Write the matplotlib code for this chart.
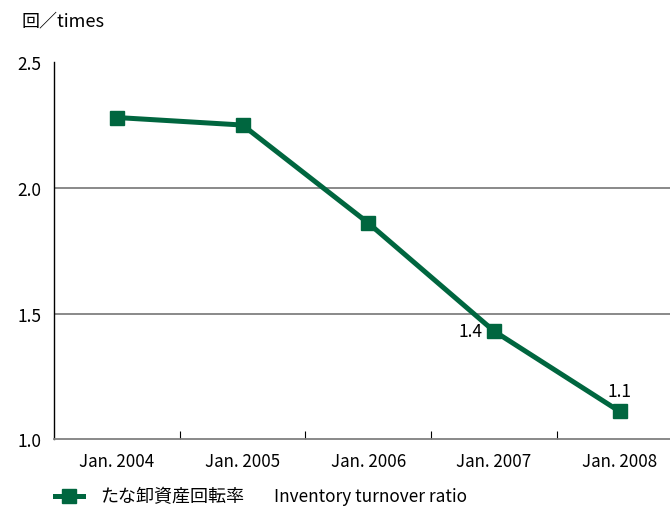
import matplotlib
matplotlib.use("Agg")
import matplotlib.pyplot as plt
from matplotlib.lines import Line2D

plt.rcParams['font.family'] = ['Noto Sans CJK JP', 'DejaVu Sans']

categories = ["Jan. 2004", "Jan. 2005", "Jan. 2006", "Jan. 2007", "Jan. 2008"]
values = [2.28, 2.25, 1.86, 1.43, 1.11]
yticks = [1.0, 1.5, 2.0, 2.5]
ytick_labels = ["1.0", "1.5", "2.0", "2.5"]
annotations = {3: "1.4", 4: "1.1"}

green = "#00663f"
gray = "#808080"

fig = plt.figure(figsize=(6.7, 5.1), dpi=100)
ax = fig.add_axes([0.0806, 0.137, 0.9194, 0.739])

x = list(range(len(categories)))
ax.plot(x, values, color=green, lw=3.6, marker='s', markersize=10.5, zorder=3)

ax.set_ylim(1.0, 2.5)
ax.set_xlim(-0.5, 4.4)
ax.set_yticks(yticks)
ax.set_yticklabels(ytick_labels, fontsize=12.5)
for y in [1.5, 2.0]:
    ax.axhline(y, color=gray, lw=1.3, zorder=1)

ax.set_xticks(x)
ax.set_xticklabels(categories, fontsize=12.2)
ax.set_xticks([i + 0.5 for i in range(4)], minor=True)
ax.tick_params(axis='x', which='major', length=0, pad=9)
ax.tick_params(axis='x', which='minor', direction='in', length=6, color='black', width=0.8)
ax.tick_params(axis='y', length=0, pad=9)

for s in ['top', 'right']:
    ax.spines[s].set_visible(False)
ax.spines['left'].set_color('black')
ax.spines['left'].set_linewidth(1.0)
ax.spines['bottom'].set_color(gray)
ax.spines['bottom'].set_linewidth(1.3)

for i, t in annotations.items():
    if i == 3:
        ax.annotate(t, (i, values[i]), xytext=(-17, 0), textcoords='offset points',
                    ha='center', va='center', fontsize=12.5)
    else:
        ax.annotate(t, (i, values[i]), xytext=(0, 15), textcoords='offset points',
                    ha='center', va='center', fontsize=12.5)

fig.text(22 / 670, 1 - 21 / 510, "回／times", fontsize=13, va='center', ha='left')

fig.add_artist(Line2D([55 / 670, 83 / 670], [1 - 497 / 510] * 2, transform=fig.transFigure,
                      color=green, lw=3.6))
fig.add_artist(Line2D([69 / 670], [1 - 497 / 510], transform=fig.transFigure,
                      color=green, marker='s', markersize=10.5, lw=0))
fig.text(100 / 670, 1 - 497 / 510, "たな卸資産回転率", fontsize=13, va='center', ha='left')
fig.text(274 / 670, 1 - 497 / 510, "Inventory turnover ratio", fontsize=12.4, va='center', ha='left')

fig.savefig("out.png", dpi=100)
